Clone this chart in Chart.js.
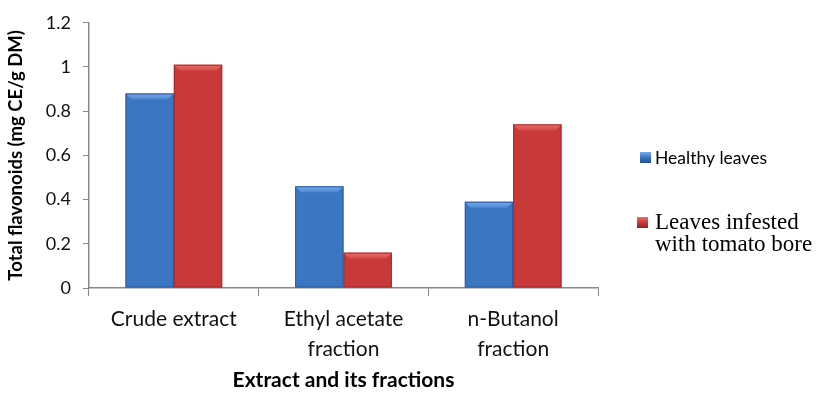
<!DOCTYPE html>
<html>
<head>
<meta charset="utf-8">
<script src="https://cdn.jsdelivr.net/npm/chart.js@4/dist/chart.umd.min.js"></script>
<style>
  html, body { margin: 0; padding: 0; background: #ffffff; }
  #wrap { width: 821px; height: 397px; position: relative; }
</style>
</head>
<body>
<div id="wrap"><canvas id="c" width="821" height="397"></canvas></div>
<script>
// Fractions of the leaf extract
const categories = [["Crude extract"], ["Ethyl acetate", "fraction"], ["n-Butanol", "fraction"]];
// Total flavonoids, mg CE/g DM
const healthyLeaves = [0.88, 0.46, 0.39];
const infestedLeaves = [1.01, 0.16, 0.74];
const seriesNames = ["Healthy leaves", "Leaves infested with tomato bore"];
const yTicks = [0, 0.2, 0.4, 0.6, 0.8, 1, 1.2];

const palette = {
  blue: { dark: "#24508f", mid: "#3b76c3", light: "#4c88d4", top: "#79aaea", edge: "#2c5b9c" },
  red:  { dark: "#8f2523", mid: "#c9393a", light: "#d74846", top: "#e8706c", edge: "#a12c2a" }
};

// Horizontal shading across each bar, like a rounded prism face
function barFill(col) {
  return function (ctx) {
    const chart = ctx.chart;
    const el = ctx.element;
    if (!chart.chartArea || !el || !isFinite(el.x) || !isFinite(el.width)) return col.mid;
    const half = el.width / 2;
    const g = chart.ctx.createLinearGradient(el.x - half, 0, el.x + half, 0);
    g.addColorStop(0, col.dark);
    g.addColorStop(0.12, col.mid);
    g.addColorStop(0.5, col.light);
    g.addColorStop(0.88, col.mid);
    g.addColorStop(1, col.dark);
    return g;
  };
}

// Bevelled top and edges on each bar, placed from the bar elements
const bevel = {
  id: "bevel",
  afterDatasetsDraw(chart) {
    const ctx = chart.ctx;
    chart.data.datasets.forEach((ds, i) => {
      const col = i === 0 ? palette.blue : palette.red;
      chart.getDatasetMeta(i).data.forEach(bar => {
        const p = bar.getProps(["x", "y", "base", "width"], true);
        const l = p.x - p.width / 2, r = p.x + p.width / 2, t = p.y, b = p.base;
        const s = Math.min(6, (b - t) / 3);
        ctx.save();
        // top face
        const tg = ctx.createLinearGradient(0, t, 0, t + s);
        tg.addColorStop(0, col.top);
        tg.addColorStop(1, col.light);
        ctx.fillStyle = tg;
        ctx.beginPath();
        ctx.moveTo(l, t); ctx.lineTo(r, t); ctx.lineTo(r - s, t + s); ctx.lineTo(l + s, t + s);
        ctx.closePath(); ctx.fill();
        // outline
        ctx.strokeStyle = col.edge;
        ctx.lineWidth = 1;
        ctx.strokeRect(l + 0.5, t + 0.5, r - l - 1, b - t - 1);
        ctx.restore();
      });
    });
  }
};

// Legend on the right: each entry keeps its own typeface
const sideLegend = {
  id: "sideLegend",
  afterDraw(chart) {
    const ctx = chart.ctx;
    const entries = [
      { col: palette.blue, sq: [640, 152], font: "17.5px Lato", lines: ["Healthy leaves"], tx: 655, ty: 158, lh: 0 },
      { col: palette.red, sq: [637, 217], font: "23px 'Liberation Serif'", lines: ["Leaves infested", "with tomato bore"], tx: 655, ty: 223, lh: 22 }
    ];
    entries.forEach(e => {
      const [x, y] = e.sq, w = 11;
      const g = ctx.createLinearGradient(x, y, x, y + w);
      g.addColorStop(0, e.col.top);
      g.addColorStop(0.5, e.col.mid);
      g.addColorStop(1, e.col.dark);
      ctx.fillStyle = g;
      ctx.fillRect(x, y, w, w);
      ctx.fillStyle = "#000";
      ctx.font = e.font;
      ctx.textBaseline = "middle";
      ctx.textAlign = "left";
      e.lines.forEach((ln, k) => ctx.fillText(ln, e.tx, e.ty + k * e.lh));
    });
  }
};

new Chart(document.getElementById("c"), {
  type: "bar",
  data: {
    labels: categories,
    datasets: [
      { label: seriesNames[0], data: healthyLeaves, backgroundColor: barFill(palette.blue), borderWidth: 0 },
      { label: seriesNames[1], data: infestedLeaves, backgroundColor: barFill(palette.red), borderWidth: 0 }
    ]
  },
  options: {
    responsive: false,
    animation: false,
    devicePixelRatio: 1,
    layout: { padding: { top: 21, right: 223, left: 0, bottom: 0 } },
    datasets: { bar: { barPercentage: 1, categoryPercentage: 0.57 } },
    plugins: { legend: { display: false }, tooltip: { enabled: false } },
    scales: {
      x: {
        afterFit(s) { s.height = 109; },
        grid: { drawOnChartArea: false, drawTicks: true, tickLength: 8, color: "#888888" },
        border: { color: "#888888", width: 1.5 },
        ticks: { color: "#111", font: { family: "Lato", size: 21, lineHeight: 1.45 }, padding: 8, maxRotation: 0 },
        title: { display: true, text: "Extract and its fractions", color: "#000",
                 font: { family: "Lato", size: 21, weight: "bold" }, padding: { top: 2 } }
      },
      y: {
        min: 0, max: 1.2,
        afterFit(s) { s.width = 89; },
        afterBuildTicks(s) { s.ticks = yTicks.map(v => ({ value: v })); },
        grid: { drawOnChartArea: false, drawTicks: true, tickLength: 6, color: "#888888" },
        border: { color: "#888888", width: 1.5 },
        ticks: { color: "#111", font: { family: "Lato", size: 18 }, padding: 12, callback: v => String(v) },
        title: { display: true, text: "Total flavonoids (mg CE/g DM)", color: "#000",
                 font: { family: "Lato", size: 18.5, weight: "bold" }, padding: { top: 5, bottom: 4 } }
      }
    }
  },
  plugins: [bevel, sideLegend]
});
</script>
</body>
</html>
